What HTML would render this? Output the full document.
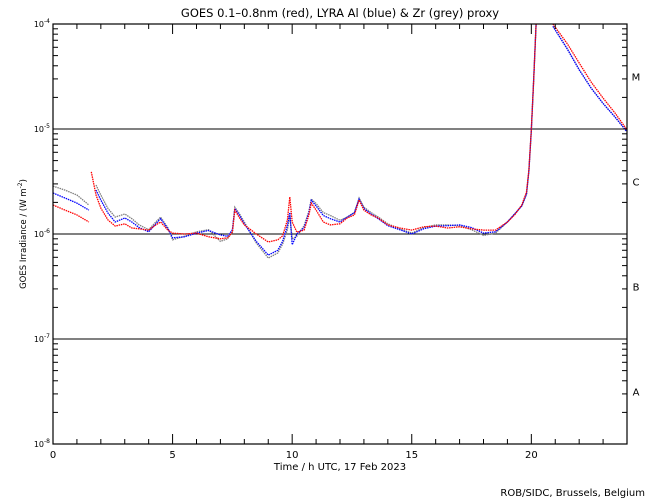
<!DOCTYPE html>
<html><head><meta charset="utf-8"><style>
body{margin:0;background:#fff}
svg{display:block;font-family:"DejaVu Sans","Liberation Sans",sans-serif}
</style></head><body>
<svg id="c" width="650" height="500" viewBox="0 0 650 500" xmlns="http://www.w3.org/2000/svg">
<rect width="650" height="500" fill="#fff"/>
<text x="340" y="17" font-size="11.5" text-anchor="middle">GOES 0.1–0.8nm (red), LYRA Al (blue) &amp; Zr (grey) proxy</text>
<text x="340" y="470" font-size="10" text-anchor="middle">Time / h UTC, 17 Feb 2023</text>
<text transform="translate(26,234) rotate(-90)" font-size="8.5" text-anchor="middle">GOES Irradiance / (W m<tspan font-size="6" dy="-4">-2</tspan><tspan dy="4">)</tspan></text>
<text x="645" y="496" font-size="10" text-anchor="end">ROB/SIDC, Brussels, Belgium</text>
<g id="grid"></g><g id="series"></g><g id="axes"></g>
</svg>
<script>
const times=[0,0.5,1,1.5,null,1.6,1.8,2,2.3,2.6,3,3.3,3.6,4,4.3,4.5,4.8,5,5.5,6,6.5,7,7.3,7.5,7.6,7.8,8,8.5,9,9.4,9.6,9.8,9.9,10,10.2,10.5,10.7,10.8,11,11.3,11.6,12,12.3,12.6,12.8,13,13.3,13.6,14,14.5,15,15.5,16,16.5,17,17.5,18,18.5,19,19.3,19.6,19.8,19.9,20,20.1,20.2,null,20.9,21.5,22,22.5,23,23.5,24];
// irradiance in units of 1e-6 W/m^2
const goesRed=[1.89,1.69,1.52,1.30,null,3.9,2.35,1.77,1.36,1.19,1.25,1.14,1.12,1.09,1.22,1.30,1.09,1.02,1.0,1.02,0.94,0.90,0.92,1.04,1.69,1.42,1.22,1.0,0.84,0.88,0.96,1.36,2.25,1.30,1.04,1.09,1.52,1.97,1.69,1.30,1.22,1.25,1.42,1.52,2.11,1.69,1.52,1.42,1.22,1.14,1.09,1.17,1.19,1.14,1.17,1.12,1.09,1.09,1.30,1.52,1.89,2.51,4.07,9.8,29.3,100,null,100,65,42.5,28,19.7,14.2,9.8];
const lyraAl=[2.46,2.2,1.97,1.69,null,null,2.62,2.11,1.58,1.30,1.42,1.30,1.15,1.05,1.25,1.40,1.12,0.92,0.94,1.02,1.08,0.98,0.95,1.10,1.75,1.50,1.25,0.85,0.63,0.70,0.85,1.20,1.60,0.79,1.0,1.15,1.60,2.1,1.85,1.50,1.40,1.30,1.45,1.60,2.15,1.75,1.55,1.40,1.20,1.10,1.0,1.12,1.19,1.20,1.22,1.15,1.02,1.05,1.30,1.55,1.85,2.4,4.0,9.6,30,100,null,95,58,36.6,24.6,17.5,13,9.4];
const lyraZr=[2.86,2.62,2.35,1.89,null,null,2.93,2.35,1.75,1.45,1.55,1.40,1.22,1.10,1.30,1.45,1.15,0.88,0.95,1.05,1.10,0.85,0.90,1.05,1.80,1.55,1.30,0.82,0.59,0.66,0.80,1.10,1.50,0.90,0.95,1.20,1.65,2.15,1.95,1.60,1.50,1.35,1.45,1.60,2.2,1.80,1.60,1.45,1.25,1.12,1.02,1.15,1.22,1.22,1.20,1.10,0.97,1.02,1.30,1.55,1.85,2.4,4.0,9.6,30,100,null,95,58,36.6,24.6,17.5,13,9.4];
const xTicks=[0,5,10,15,20];
const yDecades=[-4,-5,-6,-7,-8];
const classLabels=["M","C","B","A"];

const NS="http://www.w3.org/2000/svg";
const L=53,R=627,T=24,B=444;
const xs=t=>L+(t/24)*(R-L);
const ys=lg=>T+(-4-lg)*(B-T)/4;
const yv=v=>ys(Math.log10(v*1e-6));
function mk(tag,attrs,parent){const e=document.createElementNS(NS,tag);for(const k in attrs)e.setAttribute(k,attrs[k]);parent.appendChild(e);return e;}
const grid=document.getElementById('grid'),axes=document.getElementById('axes'),ser=document.getElementById('series');
[-5,-6,-7].forEach(d=>{const l=mk('line',{x1:L,x2:R,y1:ys(d),y2:ys(d),stroke:'#000','stroke-width':1},grid);

});
const fr=mk('rect',{x:L,y:T,width:R-L,height:B-T,fill:'none',stroke:'#000','stroke-width':1.2},axes);


for(let h=0;h<=24;h++){const len=h%5===0?10:5;const x=xs(h);
mk('line',{x1:x,x2:x,y1:B,y2:B-len,stroke:'#000'},axes);mk('line',{x1:x,x2:x,y1:T,y2:T+len,stroke:'#000'},axes);}
xTicks.forEach(t=>{const e=mk('text',{x:xs(t),y:B+14,'font-size':10,'text-anchor':'middle'},axes);e.textContent=t;

});
for(let d=-8;d<-4;d++){for(let m=1;m<10;m++){const y=ys(d+Math.log10(m));const len=m===1?10:5;
mk('line',{x1:L,x2:L+len,y1:y,y2:y,stroke:'#000'},axes);mk('line',{x1:R,x2:R-len,y1:y,y2:y,stroke:'#000'},axes);}}
yDecades.forEach(d=>{const e=mk('text',{x:50,y:ys(d)+3,'font-size':8,'text-anchor':'end'},axes);
e.innerHTML='10<tspan font-size="6" dy="-4">'+d+'</tspan>';

});
classLabels.forEach((c,i)=>{const e=mk('text',{x:636,y:ys(-4.5-i)+4,'font-size':10,'text-anchor':'middle'},axes);e.textContent=c;

});
function draw(vals,color,name){let seg=[];const segs=[];
times.forEach((t,i)=>{const v=vals[i];if(t===null||v===null){if(seg.length)segs.push(seg);seg=[];return;}
seg.push([xs(t),Math.max(T,yv(v))]);});if(seg.length)segs.push(seg);
const cp=document.createElementNS(NS,'g');ser.appendChild(cp);
segs.forEach(s=>{const p=mk('polyline',{points:s.map(a=>a[0].toFixed(1)+','+a[1].toFixed(1)).join(' '),fill:'none',stroke:color,'stroke-width':1.3,'stroke-dasharray':'1.5 0.8'},cp);

});}
draw(lyraZr,'#808080','lyra-zr-series');
draw(lyraAl,'#0000ff','lyra-al-series');
draw(goesRed,'#ff0000','goes-series');
</script>
</body></html>
